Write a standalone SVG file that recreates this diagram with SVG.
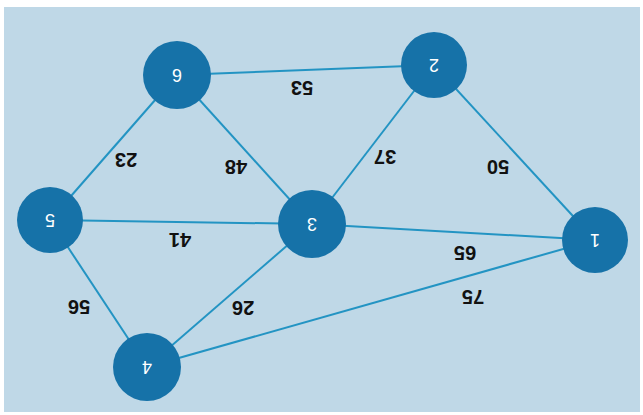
<svg xmlns="http://www.w3.org/2000/svg" width="643" height="415" viewBox="0 0 643 415">
<style>
.bg{fill:#bfd8e7}
.node circle{fill:#1672a8}
.node text{fill:#ffffff;font-family:"Liberation Sans",Arial,sans-serif;font-size:18px;text-anchor:middle;dominant-baseline:central}
.edges line{stroke:#2394c3;stroke-width:2}
.w{fill:#111;font-family:"Liberation Sans",Arial,sans-serif;font-size:20px;font-weight:bold;text-anchor:middle;dominant-baseline:central}
</style>
<rect x="0" y="0" width="643" height="415" fill="#ffffff"/>
<rect class="bg" x="4" y="7" width="636" height="405"/>
<g id="edges" class="edges">
<line x1="177" y1="75" x2="434" y2="65"/>
<line x1="177" y1="75" x2="50" y2="220"/>
<line x1="177" y1="75" x2="312" y2="224"/>
<line x1="434" y1="65" x2="312" y2="224"/>
<line x1="434" y1="65" x2="595" y2="240"/>
<line x1="50" y1="220" x2="312" y2="224"/>
<line x1="312" y1="224" x2="595" y2="240"/>
<line x1="50" y1="220" x2="147" y2="367"/>
<line x1="312" y1="224" x2="147" y2="367"/>
<line x1="147" y1="367" x2="595" y2="240"/>
</g>
<g id="weights">
<text class="w" transform="translate(302,88) rotate(180)">53</text>
<text class="w" transform="translate(126,160) rotate(180)">23</text>
<text class="w" transform="translate(236,167) rotate(180)">48</text>
<text class="w" transform="translate(385,157) rotate(180)">37</text>
<text class="w" transform="translate(498,167) rotate(180)">50</text>
<text class="w" transform="translate(180,240) rotate(180)">41</text>
<text class="w" transform="translate(465,253) rotate(180)">65</text>
<text class="w" transform="translate(473,297) rotate(180)">75</text>
<text class="w" transform="translate(79,307) rotate(180)">56</text>
<text class="w" transform="translate(243,308) rotate(180)">26</text>
</g>
<g id="node1" class="node"><circle cx="595" cy="240" r="33"/><text transform="translate(595,240) rotate(180)">1</text></g>
<g id="node2" class="node"><circle cx="434" cy="65" r="33"/><text transform="translate(434,65) rotate(180)">2</text></g>
<g id="node3" class="node"><circle cx="312" cy="224" r="34"/><text transform="translate(312,224) rotate(180)">3</text></g>
<g id="node4" class="node"><circle cx="147" cy="367" r="34"/><text transform="translate(147,367) rotate(180)">4</text></g>
<g id="node5" class="node"><circle cx="50" cy="220" r="33"/><text transform="translate(50,220) rotate(180)">5</text></g>
<g id="node6" class="node"><circle cx="177" cy="75" r="34"/><text transform="translate(177,75) rotate(180)">6</text></g>
</svg>
